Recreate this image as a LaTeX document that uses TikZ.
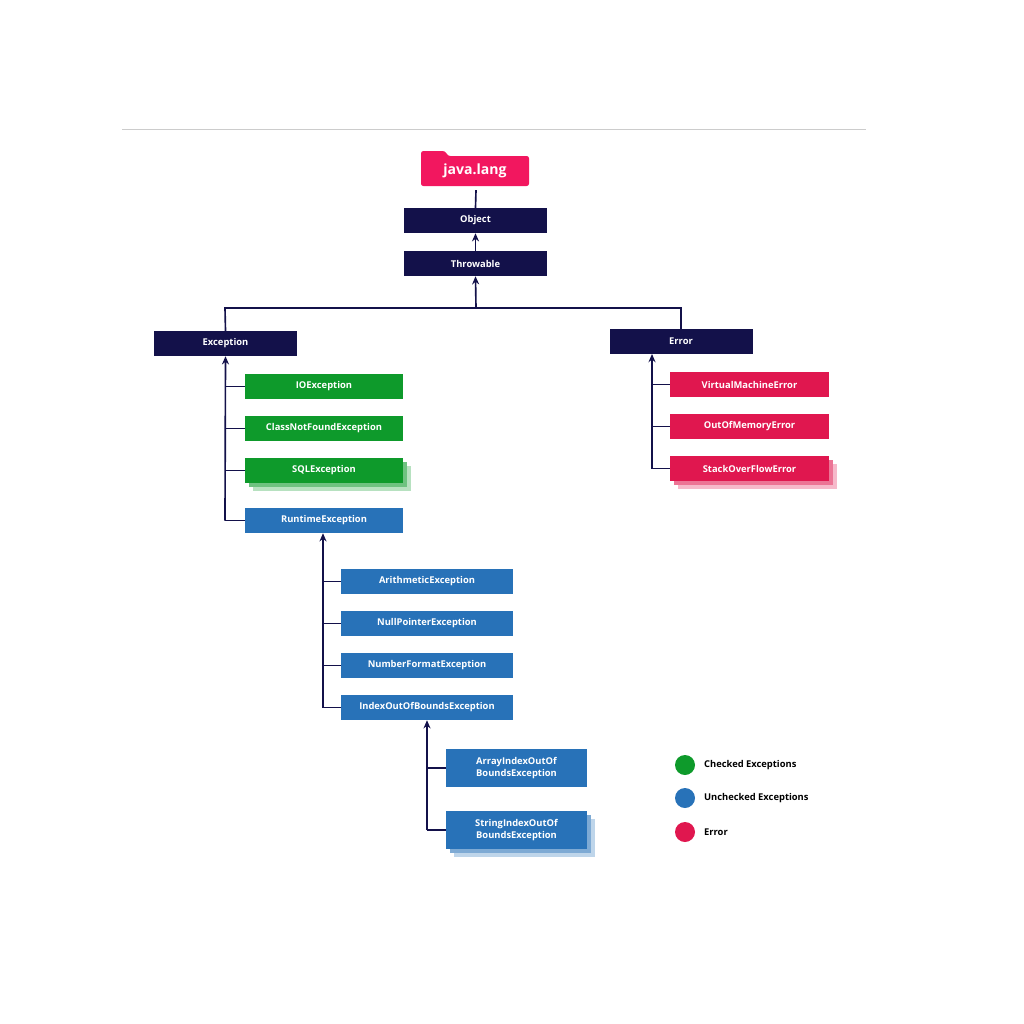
\documentclass[tikz,border=0pt]{standalone}
\usepackage{fontspec}
\setmainfont{Open Sans}
\usetikzlibrary{arrows.meta}
\definecolor{navy}{HTML}{13114A}
\definecolor{chk}{HTML}{0E9A2B}
\definecolor{unchk}{HTML}{2872B8}
\definecolor{err}{HTML}{E0174F}
\definecolor{pinky}{HTML}{F2175F}
\tikzset{
  box/.style={minimum height=0.75cm, inner sep=0pt, text=white, font=\bfseries\fontsize{8}{9.5}\selectfont, align=center},
  top/.style={box, fill=navy, minimum width=4.29cm},
  green/.style={box, fill=chk, minimum width=4.74cm},
  red/.style={box, fill=err, minimum width=4.77cm},
  blue/.style={box, fill=unchk, minimum width=4.74cm},
  rtc/.style={box, fill=unchk, minimum width=5.16cm},
  idx/.style={box, fill=unchk, minimum width=4.23cm, minimum height=1.14cm},
  link/.style={line width=1.4pt, draw=navy},
  arr/.style={link, -{Stealth[length=7pt,width=6pt]}},
  dot/.style={circle, minimum size=0.6cm, inner sep=0pt},
  key/.style={anchor=west, font=\bfseries\fontsize{8}{9.5}\selectfont}
}
\begin{document}
\begin{tikzpicture}[x=0.03cm,y=-0.03cm]
  \useasboundingbox (0,0) rectangle (1024,1024);
  \draw[black!20, line width=0.8pt] (122,129) -- (866,129);

  % top of the tree
  \fill[pinky, rounded corners=2pt] (421,151) -- (445,151) -- (448,156) -- (529,156) -- (529,186) -- (421,186) -- cycle;
  \node[text=white, font=\bfseries\fontsize{12}{14}\selectfont] (lang) at (475,171) {java.lang};
  \node[top] (obj) at (475.5,220.5) {Object};
  \node[top] (thr) at (475.5,263.5) {Throwable};
  \node[top] (exc) at (225.5,343.5) {Exception};
  \node[top] (err) at (681,341.5) {Error};

  \coordinate (fork) at (476,308);
  \coordinate (fl) at (225,308);
  \coordinate (fr) at (681,308);
  \draw[link] (lang.south) ++(1,8) -- (obj.north);
  \draw[arr] (thr.north) -- (obj.south);
  \draw[arr] (fork) -- (thr.south);
  \draw[link] (exc.north) -- (fl) -- (fr) -- (err.north);

  % shadows of stacked boxes
  \foreach \d/\o in {8/30,4/60} {
    \fill[chk!\o] (245+\d,458+\d) rectangle (403+\d,483+\d);
    \fill[err!\o] (670+\d,456+\d) rectangle (829+\d,481+\d);
    \fill[unchk!\o] (446+\d,811+\d) rectangle (587+\d,849+\d);
  }

  % checked and runtime
  \node[green] (io) at (324,386.5) {IOException};
  \node[green] (cnf) at (324,428.5) {ClassNotFoundException};
  \node[green] (sql) at (324,470.5) {SQLException};
  \node[blue] (rt) at (324,520.5) {RuntimeException};
  \coordinate (ev) at (225,520.5);
  \draw[arr] (ev) -- (exc.south);
  \foreach \n in {io,cnf,sql,rt} \draw[link] (225,0 |- \n.west) -- (\n.west);

  % errors
  \node[red] (vm) at (749.5,384.5) {VirtualMachineError};
  \node[red] (oom) at (749.5,426.5) {OutOfMemoryError};
  \node[red] (so) at (749.5,468.5) {StackOverFlowError};
  \coordinate (rv) at (652,468.5);
  \draw[arr] (rv) -- (652,354);
  \foreach \n in {vm,oom,so} \draw[link] (652,0 |- \n.west) -- (\n.west);

  % unchecked
  \node[rtc] (ari) at (427,581.5) {ArithmeticException};
  \node[rtc] (npe) at (427,623.5) {NullPointerException};
  \node[rtc] (nfe) at (427,665.5) {NumberFormatException};
  \node[rtc] (ioob) at (427,707.5) {IndexOutOfBoundsException};
  \coordinate (uv) at (323,707.5);
  \draw[arr] (uv) -- (rt.south -| uv);
  \foreach \n in {ari,npe,nfe,ioob} \draw[link] (323,0 |- \n.west) -- (\n.west);

  \node[idx] (aio) at (516.5,768) {ArrayIndexOutOf\\BoundsException};
  \node[idx] (sio) at (516.5,830) {StringIndexOutOf\\BoundsException};
  \coordinate (iv) at (427,830);
  \draw[arr] (iv) -- (ioob.south -| iv);
  \foreach \n in {aio,sio} \draw[link] (427,0 |- \n.west) -- (\n.west);

  % legend
  \node[dot, fill=chk] (k1) at (685,765) {};
  \node[dot, fill=unchk] (k2) at (685,798) {};
  \node[dot, fill=err] (k3) at (685,832) {};
  \node[key] at (700,765) {Checked Exceptions};
  \node[key] at (700,798) {Unchecked Exceptions};
  \node[key] at (700,832) {Error};
\end{tikzpicture}
\end{document}
